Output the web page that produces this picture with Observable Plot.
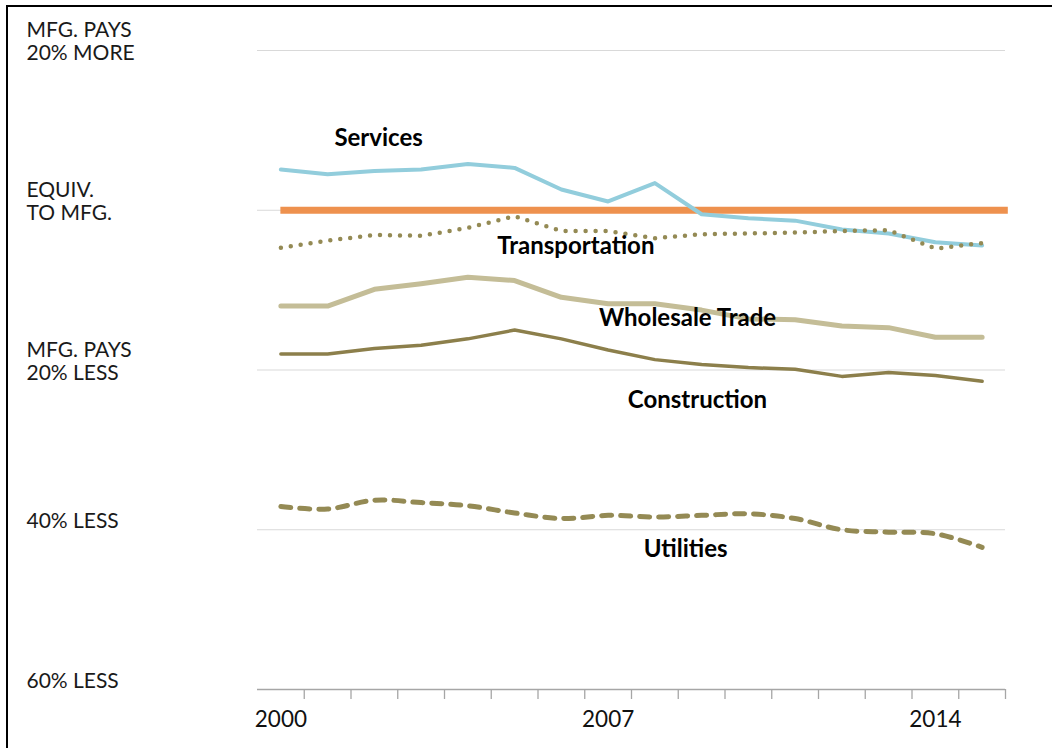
<!DOCTYPE html>
<html>
<head>
<meta charset="utf-8">
<script src="https://cdn.jsdelivr.net/npm/d3@7"></script>
<script src="https://cdn.jsdelivr.net/npm/@observablehq/plot@0.6"></script>
<style>
  html, body { margin: 0; padding: 0; background: #fff; }
  #wrap { position: relative; width: 1052px; height: 748px; overflow: hidden; }
  #border { position: absolute; left: 6px; top: 5px; width: 2000px; height: 2000px;
            border-top: 2.5px solid #000; border-left: 2.5px solid #000; pointer-events: none; }
  #chart { position: absolute; left: 0; top: 0; }
</style>
</head>
<body>
<div id="wrap"><div id="chart"></div><div id="border"></div></div>
<script>
const years = d3.range(2000, 2016);
const services       = [5.1, 4.5, 4.9, 5.1, 5.8, 5.3, 2.6, 1.1, 3.4, -0.5, -1.0, -1.3, -2.4, -2.9, -4.0, -4.4];
const transportation = [-4.7, -3.8, -3.1, -3.2, -2.2, -0.75, -2.6, -2.6, -3.5, -3.0, -2.9, -2.8, -2.6, -2.5, -4.8, -4.1];
const wholesale      = [-12.0, -12.0, -9.9, -9.2, -8.4, -8.8, -10.9, -11.7, -11.7, -12.5, -13.6, -13.7, -14.5, -14.7, -15.9, -15.9];
const construction   = [-18.0, -18.0, -17.3, -16.9, -16.1, -15.0, -16.1, -17.5, -18.7, -19.3, -19.7, -19.9, -20.8, -20.3, -20.7, -21.4];
const utilities      = [-37.1, -37.4, -36.3, -36.6, -37.0, -37.9, -38.6, -38.2, -38.4, -38.2, -38.0, -38.6, -40.0, -40.3, -40.5, -42.2];

const yTickValues = [20, 0, -20, -40, -60];
const yTickLabels = ["MFG. PAYS\n20% MORE", "EQUIV.\nTO MFG.", "MFG. PAYS\n20% LESS", "40% LESS", "60% LESS"];
const xLabelYears = [2000, 2007, 2014];
const xBoundaries = d3.range(2000.5, 2016, 1);

const seriesNames  = ["Services", "Transportation", "Wholesale Trade", "Construction", "Utilities"];
const labelYears   = [2002.09, 2006.31, 2008.7, 2008.91, 2008.66];
const labelValues  = [9.0, -4.5, -13.5, -23.8, -42.4];

const mk = (vals) => years.map((y, i) => ({year: y, v: vals[i]}));
const yLab = yTickValues.map((v, i) => ({v, label: yTickLabels[i]}));
const lab = seriesNames.map((n, i) => ({name: n, year: labelYears[i], v: labelValues[i]}));

const olive = "#948A54";

const chart = Plot.plot({
  width: 1052,
  height: 748,
  marginTop: 50,
  marginBottom: 59,
  marginLeft: 257,
  marginRight: 47,
  x: {domain: [1999.5, 2015.5]},
  y: {domain: [-60, 20]},
  style: {fontFamily: "Lato, 'Open Sans', sans-serif", background: "#fff"},
  marks: [
    Plot.ruleY([20, 0, -20, -40], {stroke: "#d9d9d9", strokeWidth: 1.2}),
    Plot.ruleY([-60], {stroke: "#a6a6a6", strokeWidth: 1.6}),
    Plot.axisX({ticks: xBoundaries, tickFormat: () => "", tickSize: 10, stroke: "#a6a6a6", strokeWidth: 1.3, label: null}),
    Plot.axisX({ticks: xLabelYears, tickFormat: d => String(d), tickSize: 0, tickPadding: 22, fontSize: 22.5, fill: "#111", label: null}),
    Plot.axisY({ticks: [], label: null}),
    Plot.text(yLab, {y: "v", text: "label", frameAnchor: "left", dx: -231, dy: -9, textAnchor: "start", lineAnchor: "middle", fontSize: 21, lineHeight: 1.1, fill: "#1a1a1a"}),
    Plot.ruleY([0], {x1: 2000, x2: 2015.56, stroke: "#EE914E", strokeWidth: 7}),
    Plot.line(mk(utilities), {x: "year", y: "v", stroke: olive, strokeWidth: 5, strokeDasharray: "10,9", strokeLinecap: "round", curve: "catmull-rom"}),
    Plot.line(mk(construction), {x: "year", y: "v", stroke: "#8C7F4B", strokeWidth: 3.5}),
    Plot.line(mk(wholesale), {x: "year", y: "v", stroke: "#C4BD97", strokeWidth: 5}),
    Plot.line(mk(services), {x: "year", y: "v", stroke: "#92CDDC", strokeWidth: 4}),
    Plot.line(mk(transportation), {x: "year", y: "v", stroke: olive, strokeWidth: 4.5, strokeDasharray: "0,10", strokeLinecap: "round"}),
    Plot.text(lab, {x: "year", y: "v", text: "name", fontSize: 24, fontWeight: "bold", fill: "#000", textAnchor: "middle"})
  ]
});
document.getElementById("chart").appendChild(chart);
</script>
</body>
</html>
